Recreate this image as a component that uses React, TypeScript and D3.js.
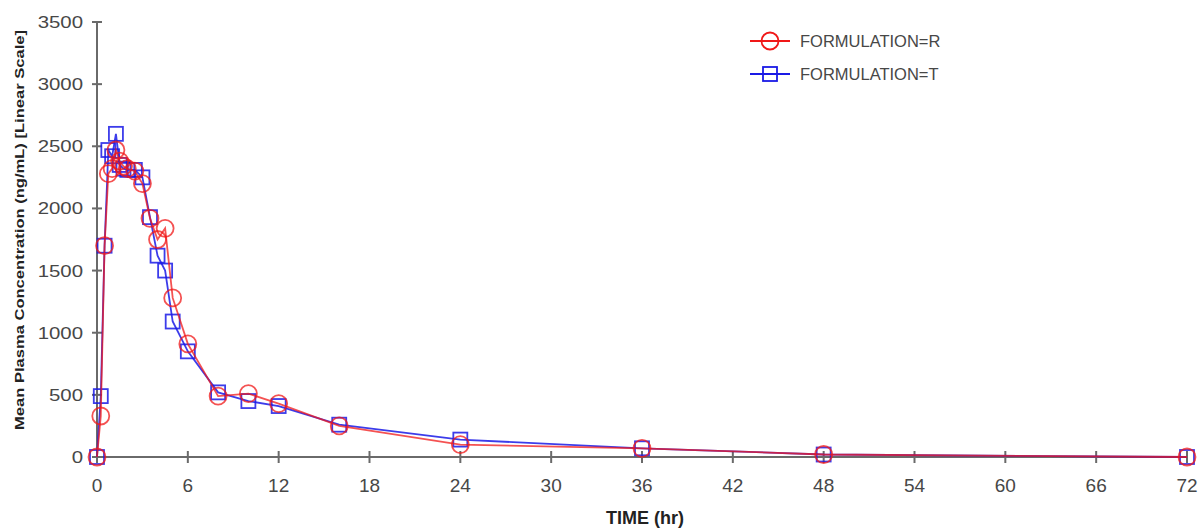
import React from 'react';
import {scaleLinear, line} from 'd3';

const times = [0, 0.25, 0.5, 0.75, 1, 1.25, 1.5, 1.75, 2, 2.5, 3, 3.5, 4, 4.5, 5, 6, 8, 10, 12, 16, 24, 36, 48, 72];
const formulationR = [0, 330, 1700, 2280, 2320, 2470, 2380, 2340, 2320, 2300, 2200, 1920, 1750, 1840, 1280, 910, 490, 510, 430, 250, 100, 70, 20, 0];
const formulationT = [0, 490, 1700, 2470, 2420, 2600, 2350, 2320, 2310, 2310, 2250, 1930, 1620, 1500, 1090, 850, 520, 450, 410, 260, 140, 70, 20, 0];
const xTicks = [0, 6, 12, 18, 24, 30, 36, 42, 48, 54, 60, 66, 72];
const yTicks = [0, 500, 1000, 1500, 2000, 2500, 3000, 3500];

const RED = '#f01818';
const BLUE = '#1a1ae6';

const App = () => {
    let width = 1200, height = 529;
    let x = scaleLinear().domain([0, 72]).range([97, 1187]);
    let y = scaleLinear().domain([0, 3500]).range([457, 22]);
    let l = line<number>().x((d, i) => x(times[i])).y(d => y(d));
    let font = 'Liberation Sans, Arial, sans-serif';

    return (
        <svg width={width} height={height} style={{position: 'absolute', left: 0, top: 0}} fontFamily={font}>
            <rect width={width} height={height} fill="#fff"/>
            {/* axes */}
            <g stroke="#6a6a6a" strokeWidth="2">
                <line x1={x(0)} y1={y(3500)} x2={x(0)} y2={y(0)}/>
                <line x1={x(0)} y1={y(0)} x2={x(72)} y2={y(0)}/>
                {yTicks.map(t => <line key={t} x1={x(0) - 5} x2={x(0) + 5} y1={y(t)} y2={y(t)}/>)}
                {xTicks.map(t => <line key={t} x1={x(t)} x2={x(t)} y1={y(0) - 6} y2={y(0) + 6}/>)}
            </g>
            <g fill="#474747">
                {yTicks.map(t => <text key={t} transform={`translate(${x(0) - 14},${y(t) + 6}) scale(1.2,1)`}
                                       fontSize="17" textAnchor="end">{t}</text>)}
                {xTicks.map(t => <text key={t} x={x(t)} y={y(0) + 35} fontSize="19" textAnchor="middle">{t}</text>)}
            </g>
            <text x={645} y={524} textAnchor="middle" fontSize="18" fontWeight="bold" fill="#222">TIME (hr)</text>
            <text transform={`translate(24,230) rotate(-90)`} textAnchor="middle" fontSize="12.5" fontWeight="bold"
                  fill="#222" textLength="400" lengthAdjust="spacingAndGlyphs">Mean Plasma Concentration (ng/mL) [Linear Scale]</text>

            {/* series T */}
            <path d={l(formulationT) || ''} fill="none" stroke={BLUE} strokeWidth="1.8" strokeOpacity="0.85"/>
            {formulationT.map((v, i) => <rect key={i} x={x(times[i]) - 7} y={y(v) - 7} width="14" height="14"
                                               fill="none" stroke={BLUE} strokeWidth="1.8" strokeOpacity="0.85"/>)}
            {/* series R */}
            <path d={l(formulationR) || ''} fill="none" stroke={RED} strokeWidth="1.8" strokeOpacity="0.75"/>
            {formulationR.map((v, i) => <circle key={i} cx={x(times[i])} cy={y(v)} r="8.5"
                                                 fill="none" stroke={RED} strokeWidth="1.8" strokeOpacity="0.75"/>)}

            {/* legend */}
            <g fontSize="16.5" fill="#474747">
                <line x1={750} x2={790} y1={41} y2={41} stroke={RED} strokeWidth="1.8"/>
                <circle cx={770} cy={41} r="8.5" fill="none" stroke={RED} strokeWidth="1.8"/>
                <text x={800} y={47}>FORMULATION=R</text>
                <line x1={750} x2={790} y1={74} y2={74} stroke={BLUE} strokeWidth="1.8"/>
                <rect x={763} y={67} width="14" height="14" fill="none" stroke={BLUE} strokeWidth="1.8"/>
                <text x={800} y={80}>FORMULATION=T</text>
            </g>
        </svg>
    );
};

export default App;
